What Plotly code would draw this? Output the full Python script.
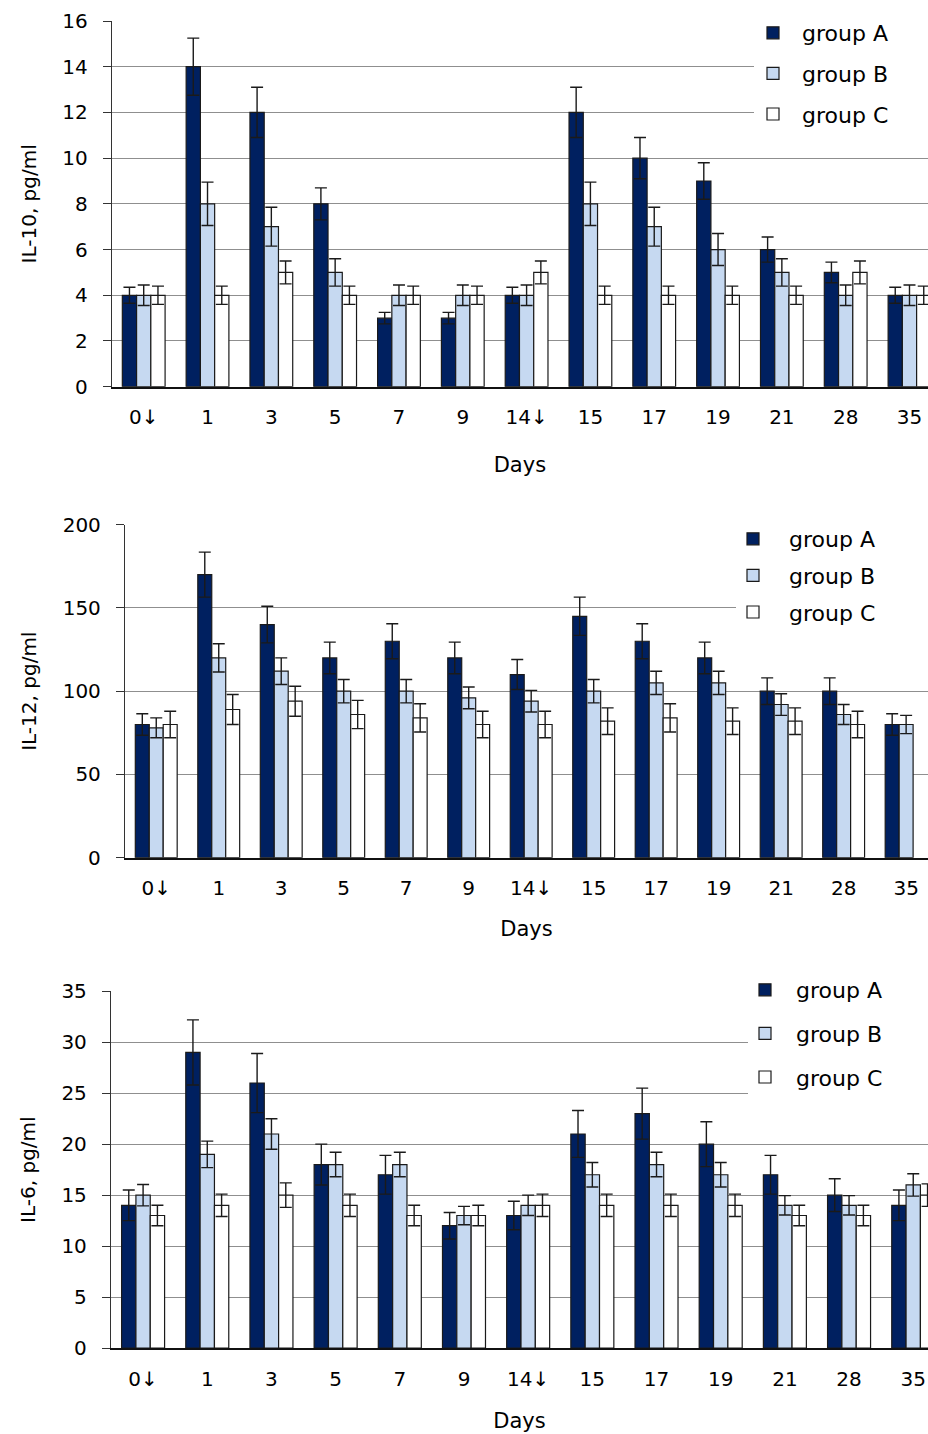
import plotly.graph_objects as go

days = ["0↓", "1", "3", "5", "7", "9", "14↓", "15", "17", "19", "21", "28", "35"]
groups = ["group A", "group B", "group C"]

il10_a = [4, 14, 12, 8, 3, 3, 4, 12, 10, 9, 6, 5, 4]
il10_a_err = [0.35, 1.25, 1.1, 0.7, 0.25, 0.25, 0.35, 1.1, 0.9, 0.8, 0.55, 0.45, 0.35]
il10_b = [4, 8, 7, 5, 4, 4, 4, 8, 7, 6, 5, 4, 4]
il10_b_err = [0.45, 0.95, 0.85, 0.6, 0.45, 0.45, 0.45, 0.95, 0.85, 0.7, 0.6, 0.45, 0.45]
il10_c = [4, 4, 5, 4, 4, 4, 5, 4, 4, 4, 4, 5, 4]
il10_c_err = [0.4, 0.4, 0.5, 0.4, 0.4, 0.4, 0.5, 0.4, 0.4, 0.4, 0.4, 0.5, 0.4]

il12_a = [80, 170, 140, 120, 130, 120, 110, 145, 130, 120, 100, 100, 80]
il12_a_err = [6.5, 13.5, 11, 9.5, 10.5, 9.5, 9, 11.5, 10.5, 9.5, 8, 8, 6.5]
il12_b = [78, 120, 112, 100, 100, 96, 94, 100, 105, 105, 92, 86, 80]
il12_b_err = [6, 8.5, 8, 7, 7, 6.5, 6.5, 7, 7, 7, 6.5, 6, 5.5]
il12_c = [80, 89, 94, 86, 84, 80, 80, 82, 84, 82, 82, 80, None]
il12_c_err = [8, 9, 9, 8.5, 8.5, 8, 8, 8, 8.5, 8, 8, 8, None]

il6_a = [14, 29, 26, 18, 17, 12, 13, 21, 23, 20, 17, 15, 14]
il6_a_err = [1.5, 3.2, 2.9, 2, 1.9, 1.3, 1.4, 2.3, 2.5, 2.2, 1.9, 1.6, 1.5]
il6_b = [15, 19, 21, 18, 18, 13, 14, 17, 18, 17, 14, 14, 16]
il6_b_err = [1.05, 1.3, 1.5, 1.2, 1.2, 0.9, 1, 1.2, 1.2, 1.2, 0.95, 0.95, 1.1]
il6_c = [13, 14, 15, 14, 13, 13, 14, 14, 14, 14, 13, 13, 15]
il6_c_err = [1, 1.1, 1.2, 1.1, 1, 1, 1.1, 1.1, 1.1, 1.1, 1, 1, 1.1]

colors = ["#002060", "#C6D9F1", "#FFFFFF"]
FONT = "DejaVu Sans"
W, H = 928, 1434

panels = [
    dict(title="IL-10, pg/ml", vals=[(il10_a, il10_a_err), (il10_b, il10_b_err), (il10_c, il10_c_err)],
         top=21, bottom=386.7, left=111.8, xend=12.29, ymax=16, dtick=2, days_off=29,
         legend="legend", lx=744, ly=12, lgap=9, iw=48, cover_left=754, cover_bottom=135),
    dict(title="IL-12, pg/ml", vals=[(il12_a, il12_a_err), (il12_b, il12_b_err), (il12_c, il12_c_err)],
         top=524.7, bottom=857.7, left=125, xend=12.35, ymax=200, dtick=50, days_off=22,
         legend="legend2", lx=717, ly=518, lgap=5, iw=62, cover_left=736, cover_bottom=640),
    dict(title="IL-6, pg/ml", vals=[(il6_a, il6_a_err), (il6_b, il6_b_err), (il6_c, il6_c_err)],
         top=991.3, bottom=1348, left=111, xend=12.23, ymax=35, dtick=5, days_off=24,
         legend="legend3", lx=734, ly=969, lgap=12, iw=52, cover_left=748, cover_bottom=1110),
]

fig = go.Figure()
layout = dict(
    width=W, height=H, margin=dict(l=0, r=0, t=0, b=0),
    paper_bgcolor="white", plot_bgcolor="white",
    barmode="group", bargap=0.33, bargroupgap=0,
    font=dict(family=FONT, size=20, color="black"),
    shapes=[],
)

for i, p in enumerate(panels):
    n = "" if i == 0 else str(i + 1)
    xa, ya = "x" + n, "y" + n
    for g, (vals, errs) in enumerate(p["vals"]):
        fig.add_trace(go.Bar(
            x=days, y=vals, name=groups[g], xaxis=xa, yaxis=ya,
            marker=dict(color=colors[g], line=dict(color="#1a1a1a", width=1.2)),
            error_y=dict(type="data", array=errs, symmetric=True, color="#1a1a1a",
                         thickness=1.4, width=6),
            legend=p["legend"], legendgroup=p["legend"] + groups[g],
        ))
    ydom = [(H - p["bottom"]) / H, (H - p["top"]) / H]
    layout["xaxis" + n] = dict(
        domain=[p["left"] / W, 1], anchor=ya, type="category",
        range=[-0.5, p["xend"]], showgrid=False, showline=True, linecolor="#111",
        linewidth=1.5, ticks="", tickfont=dict(size=20), ticklabelstandoff=12,
        title=dict(text="Days", font=dict(size=21), standoff=p["days_off"]),
        automargin=False, fixedrange=True,
    )
    layout["yaxis" + n] = dict(
        domain=ydom, anchor=xa, range=[0, p["ymax"]], dtick=p["dtick"],
        showgrid=True, gridcolor="#8f8f8f", gridwidth=1.3,
        showline=True, linecolor="#333", linewidth=1.3,
        ticks="outside", ticklen=8, tickcolor="#333", tickwidth=1.3,
        tickfont=dict(size=20), ticklabelstandoff=11,
        title=dict(text=p["title"], font=dict(size=20), standoff=20),
        zeroline=False, automargin=False, fixedrange=True,
    )
    layout["shapes"].append(dict(
        type="rect", xref="paper", yref="paper",
        x0=p["cover_left"] / W, x1=1.0,
        y0=(H - p["cover_bottom"]) / H, y1=(H - p["top"] + 2) / H,
        fillcolor="white", line=dict(width=0), layer="above",
    ))
    layout[p["legend"]] = dict(
        x=p["lx"] / W, y=(H - p["ly"]) / H, xanchor="left", yanchor="top",
        bgcolor="rgba(255,255,255,0)", font=dict(size=22), tracegroupgap=p["lgap"],
        itemwidth=p["iw"],
    )

fig.update_layout(**layout)
fig.write_html(
    "out.html",
    config={"displayModeBar": False},
    post_script="document.body.style.margin='0';document.body.style.overflow='hidden';",
)
